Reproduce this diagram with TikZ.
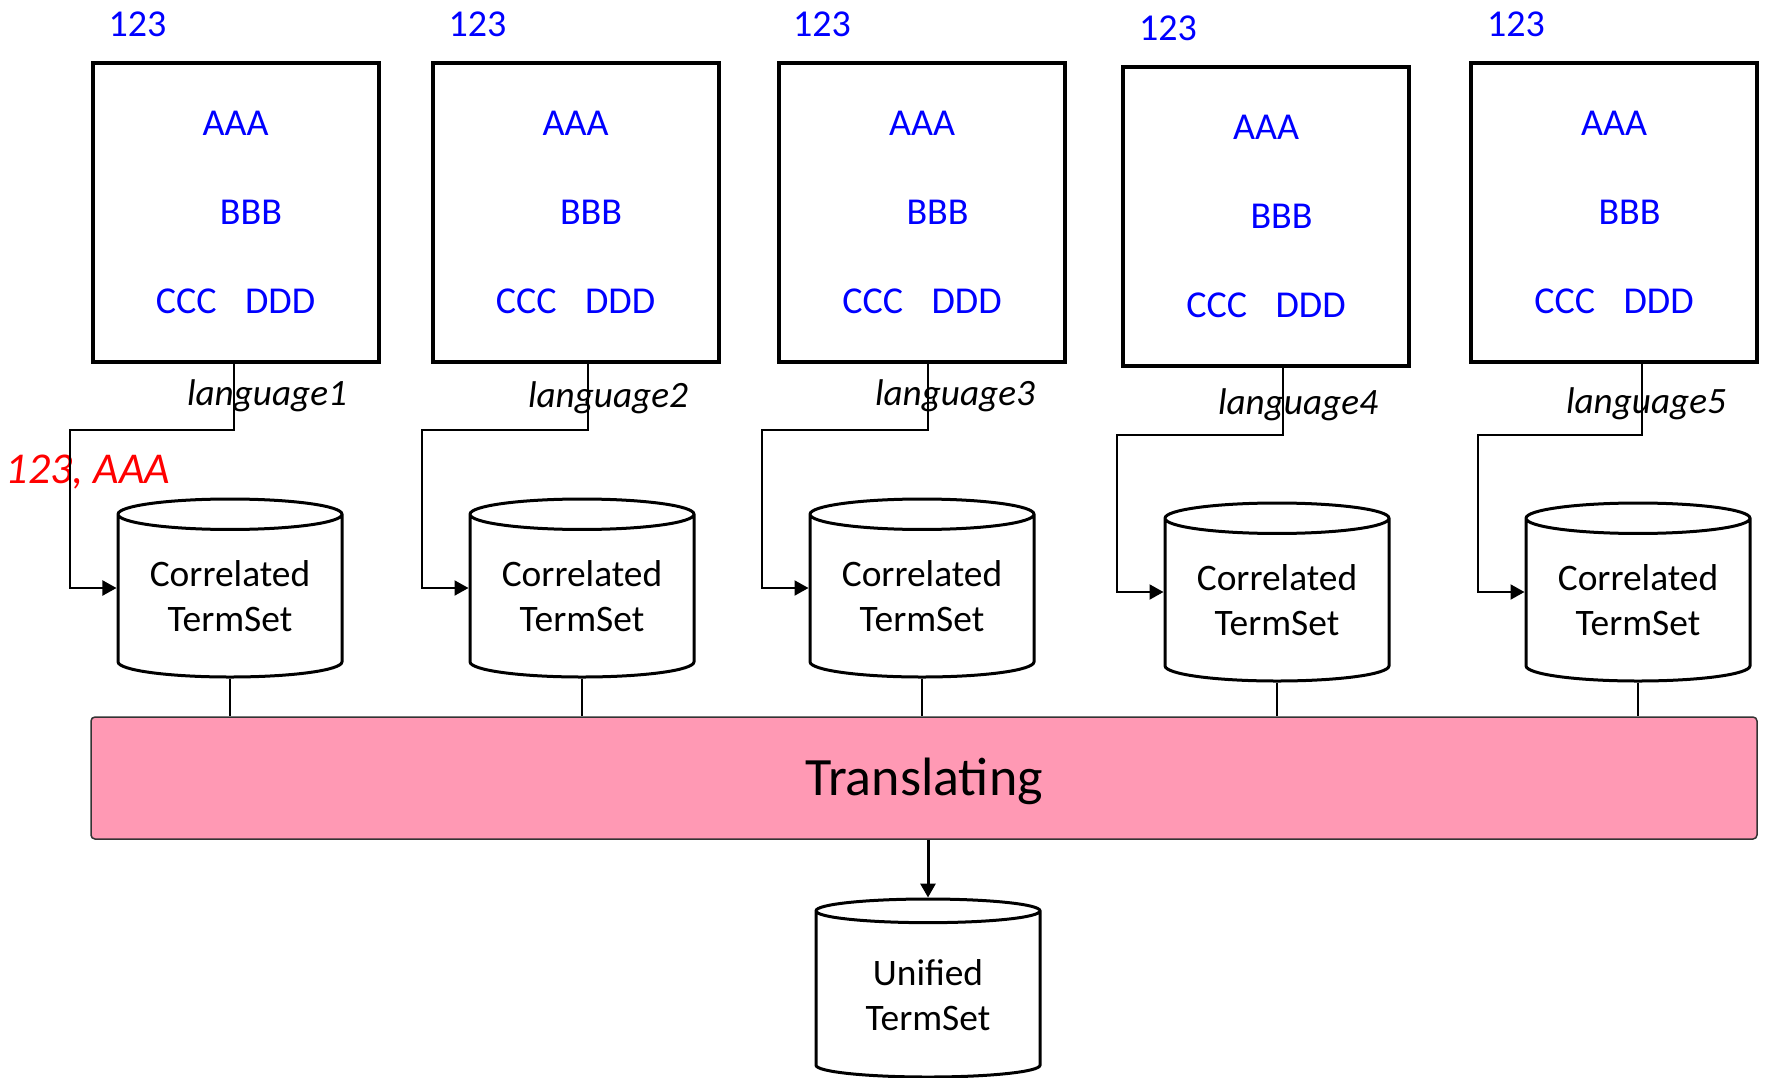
\documentclass[tikz,border=0pt]{standalone}
\usepackage{fontspec}
\setmainfont{Carlito}
\usepackage{xcolor}
\usepackage{tikz}
\usetikzlibrary{shapes.geometric,arrows.meta,positioning}
\definecolor{transPink}{RGB}{255,153,180}

\begin{document}
\begin{tikzpicture}[
        x=0.5pt, y=-0.5pt,
        src/.style={rectangle, draw=black, line width=2pt, minimum width=143pt, minimum height=149.5pt, inner sep=0pt},
        db/.style={cylinder, shape border rotate=90, aspect=0.19, anchor=shape center, draw=black, line width=1.5pt, minimum width=112pt, minimum height=89pt, inner sep=0pt, align=center, font=\fontsize{18.7}{22.5}\selectfont},
        tag/.style={text=blue, inner sep=0pt, font=\fontsize{19}{22}\selectfont},
        lang/.style={inner sep=0pt, font=\fontsize{18.6}{22}\selectfont\itshape},
        link/.style={line width=1pt, -{Triangle[length=7pt, width=7.5pt]}},
        stem/.style={line width=1pt}
    ]
    \useasboundingbox (0,0) rectangle (1766,1077);

    % Sources
    \node[src] (b1) at (235.5,212.5) {};
    \node[src] (b2) at (575.5,212.5) {};
    \node[src] (b3) at (922,212.5) {};
    \node[src] (b4) at (1266,216.5) {};
    \node[src] (b5) at (1614,212.5) {};

    % Contenu des sources
    \node[tag] at ([xshift=23.5pt, yshift=18.5pt]b1.north west) {123};
    \node[tag] at ([yshift=44.5pt]b1.center) {AAA};
    \node[tag] at ([xshift=7.75pt]b1.center) {BBB};
    \node[tag] at ([yshift=-44.5pt]b1.center) {CCC\hspace{0.75em}DDD};
    \node[tag] at ([xshift=23.5pt, yshift=18.5pt]b2.north west) {123};
    \node[tag] at ([yshift=44.5pt]b2.center) {AAA};
    \node[tag] at ([xshift=7.75pt]b2.center) {BBB};
    \node[tag] at ([yshift=-44.5pt]b2.center) {CCC\hspace{0.75em}DDD};
    \node[tag] at ([xshift=22.5pt, yshift=18.5pt]b3.north west) {123};
    \node[tag] at ([yshift=44.5pt]b3.center) {AAA};
    \node[tag] at ([xshift=7.75pt]b3.center) {BBB};
    \node[tag] at ([yshift=-44.5pt]b3.center) {CCC\hspace{0.75em}DDD};
    \node[tag] at ([xshift=23.5pt, yshift=18.5pt]b4.north west) {123};
    \node[tag] at ([yshift=44.5pt]b4.center) {AAA};
    \node[tag] at ([xshift=7.75pt]b4.center) {BBB};
    \node[tag] at ([yshift=-44.5pt]b4.center) {CCC\hspace{0.75em}DDD};
    \node[tag] at ([xshift=23.5pt, yshift=18.5pt]b5.north west) {123};
    \node[tag] at ([yshift=44.5pt]b5.center) {AAA};
    \node[tag] at ([xshift=7.75pt]b5.center) {BBB};
    \node[tag] at ([yshift=-44.5pt]b5.center) {CCC\hspace{0.75em}DDD};

    % Term sets
    \node[db] (c1) at (230,588) {Correlated\\TermSet};
    \node[db] (c2) at (582,588) {Correlated\\TermSet};
    \node[db] (c3) at (922,588) {Correlated\\TermSet};
    \node[db] (c4) at (1277,592) {Correlated\\TermSet};
    \node[db] (c5) at (1638,592) {Correlated\\TermSet};

    % Langues
    \node[lang] (l1) at (267,396) {language1};
    \node[lang] (l2) at (608,398) {language2};
    \node[lang] (l3) at (955,396) {language3};
    \node[lang] (l4) at (1298,405) {language4};
    \node[lang] (l5) at (1646,404) {language5};
    \node[lang, text=red, font=\fontsize{22}{26}\selectfont\itshape] (note) at (88,472) {123, AAA};

    % Coudes
    \coordinate (k1) at (70,430);
    \coordinate (k2) at (422,430);
    \coordinate (k3) at (762,430);
    \coordinate (k4) at (1117,435);
    \coordinate (k5) at (1478,435);

    % Liens
    \draw[link] ([xshift=-0.75pt]b1.south) |- (k1) |- (c1.shape center -| c1.west);
    \draw[link] ([xshift=6.25pt]b2.south) |- (k2) |- (c2.shape center -| c2.west);
    \draw[link] ([xshift=3pt]b3.south) |- (k3) |- (c3.shape center -| c3.west);
    \draw[link] ([xshift=8.5pt]b4.south) |- (k4) |- (c4.shape center -| c4.west);
    \draw[link] ([xshift=14pt]b5.south) |- (k5) |- (c5.shape center -| c5.west);

    % Traduction
    \node[rectangle, draw=black!80, fill=transPink, rounded corners=2pt, line width=0.75pt, minimum width=833pt, minimum height=61pt, font=\fontsize{27}{30}\selectfont] (bar) at (924,778) {};
    \node[font=\fontsize{27}{30}\selectfont, inner sep=0pt] at (924,781) {Translating};
    \draw[stem] (c1.south) -- (c1.south |- bar.north);
    \draw[stem] (c2.south) -- (c2.south |- bar.north);
    \draw[stem] (c3.south) -- (c3.south |- bar.north);
    \draw[stem] (c4.south) -- (c4.south |- bar.north);
    \draw[stem] (c5.south) -- (c5.south |- bar.north);

    \node[db] (uni) at (928,988) {Unified\\TermSet};
    \draw[link, line width=1.5pt] (bar.south -| uni.north) -- (uni.north);

\end{tikzpicture}
\end{document}
